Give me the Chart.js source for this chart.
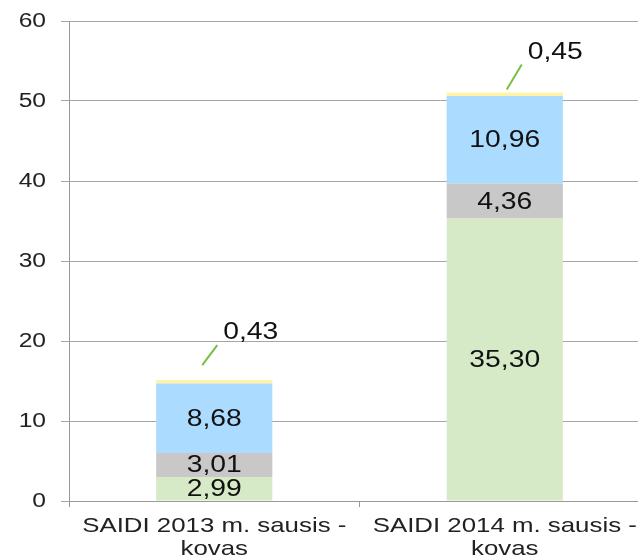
<!DOCTYPE html>
<html>
<head>
<meta charset="utf-8">
<script src="https://cdn.jsdelivr.net/npm/chart.js@4/dist/chart.umd.min.js"></script>
<style>
  html, body { margin: 0; padding: 0; background: #fff; overflow: hidden; }
  #wrap { width: 650px; height: 559px; }
</style>
</head>
<body>
<div id="wrap"><canvas id="myChart"></canvas></div>
<script>
// Chart data
const categories = [
  ['SAIDI 2013 m. sausis -', 'kovas'],
  ['SAIDI 2014 m. sausis -', 'kovas']
];
const greenValues = [2.99, 35.30];
const grayValues = [3.01, 4.36];
const blueValues = [8.68, 10.96];
const yellowValues = [0.43, 0.45];
const yTicks = [0, 10, 20, 30, 40, 50, 60];

const FONT = '"Liberation Sans", Arial, sans-serif';
const STRETCH = 1.23; // the original text is a bit wide

const fmt = v => v.toFixed(2).replace('.', ',');

// draw text squeezed/stretched horizontally
function wideText(ctx, text, x, y, align) {
  ctx.save();
  ctx.translate(x, y);
  ctx.scale(STRETCH, 1);
  ctx.textAlign = align;
  ctx.fillText(text, 0, 0);
  ctx.restore();
}

// Axis labels drawn by hand so they can be widened
const axisLabelPlugin = {
  id: 'axisLabels',
  afterDraw(chart) {
    const ctx = chart.ctx;
    const xs = chart.scales.x, ys = chart.scales.y;
    ctx.save();
    ctx.fillStyle = '#222';
    ctx.textBaseline = 'middle';
    ctx.font = '20px ' + FONT;
    yTicks.forEach(v => {
      wideText(ctx, String(v), ys.left + 46, ys.getPixelForValue(v), 'right');
    });
    ctx.font = '21px ' + FONT;
    categories.forEach((lines, i) => {
      const x = xs.getPixelForValue(i);
      lines.forEach((ln, j) => {
        wideText(ctx, ln, x, xs.top + 25 + j * 23, 'center');
      });
    });
    ctx.restore();
  }
};

// Labels inside bars + leader lines for the thin top segment
const labelPlugin = {
  id: 'segLabels',
  afterDatasetsDraw(chart) {
    const ctx = chart.ctx;
    ctx.save();
    ctx.font = '23px ' + FONT;
    ctx.fillStyle = '#111';
    ctx.textBaseline = 'middle';
    chart.data.datasets.forEach((ds, di) => {
      const meta = chart.getDatasetMeta(di);
      meta.data.forEach((bar, i) => {
        const v = ds.data[i];
        if (di < 3) {
          wideText(ctx, fmt(v), bar.x, (bar.y + bar.base) / 2 + 1, 'center');
        } else {
          // leader line offsets per bar
          const off = [[-12, -15, 3, -35], [2, -3, 17, -28]][i];
          ctx.strokeStyle = '#77c043';
          ctx.lineWidth = 2;
          ctx.beginPath();
          ctx.moveTo(bar.x + off[0], bar.y + off[1]);
          ctx.lineTo(bar.x + off[2], bar.y + off[3]);
          ctx.stroke();
          wideText(ctx, fmt(v), bar.x + off[2] + 6, bar.y + off[3] - 12, 'left');
        }
      });
    });
    ctx.restore();
  }
};

const ctx = document.getElementById('myChart').getContext('2d');
Chart.defaults.font.family = FONT;

new Chart(ctx, {
  type: 'bar',
  data: {
    labels: categories,
    datasets: [
      { data: greenValues, backgroundColor: '#d7eac8' },
      { data: grayValues, backgroundColor: '#c8c8c8' },
      { data: blueValues, backgroundColor: '#abdcff' },
      { data: yellowValues, backgroundColor: '#fff3a6' }
    ]
  },
  options: {
    responsive: true,
    maintainAspectRatio: false,
    animation: false,
    layout: { padding: { top: 21, right: 0, left: 0, bottom: 0 } },
    plugins: { legend: { display: false }, tooltip: { enabled: false } },
    datasets: { bar: { categoryPercentage: 1, barPercentage: 0.4 } },
    scales: {
      x: {
        stacked: true,
        grid: { drawOnChartArea: false, drawTicks: true, tickLength: 6, color: '#999' },
        border: { color: '#999' },
        ticks: { display: false },
        afterFit: s => { s.height = 58; }
      },
      y: {
        stacked: true,
        min: 0,
        max: 60,
        afterBuildTicks: s => { s.ticks = yTicks.map(v => ({ value: v })); },
        grid: { color: '#a6a6a6', tickLength: 8 },
        border: { color: '#999' },
        ticks: { display: false },
        afterFit: s => { s.width = 69; }
      }
    }
  },
  plugins: [labelPlugin, axisLabelPlugin]
});
</script>
</body>
</html>
